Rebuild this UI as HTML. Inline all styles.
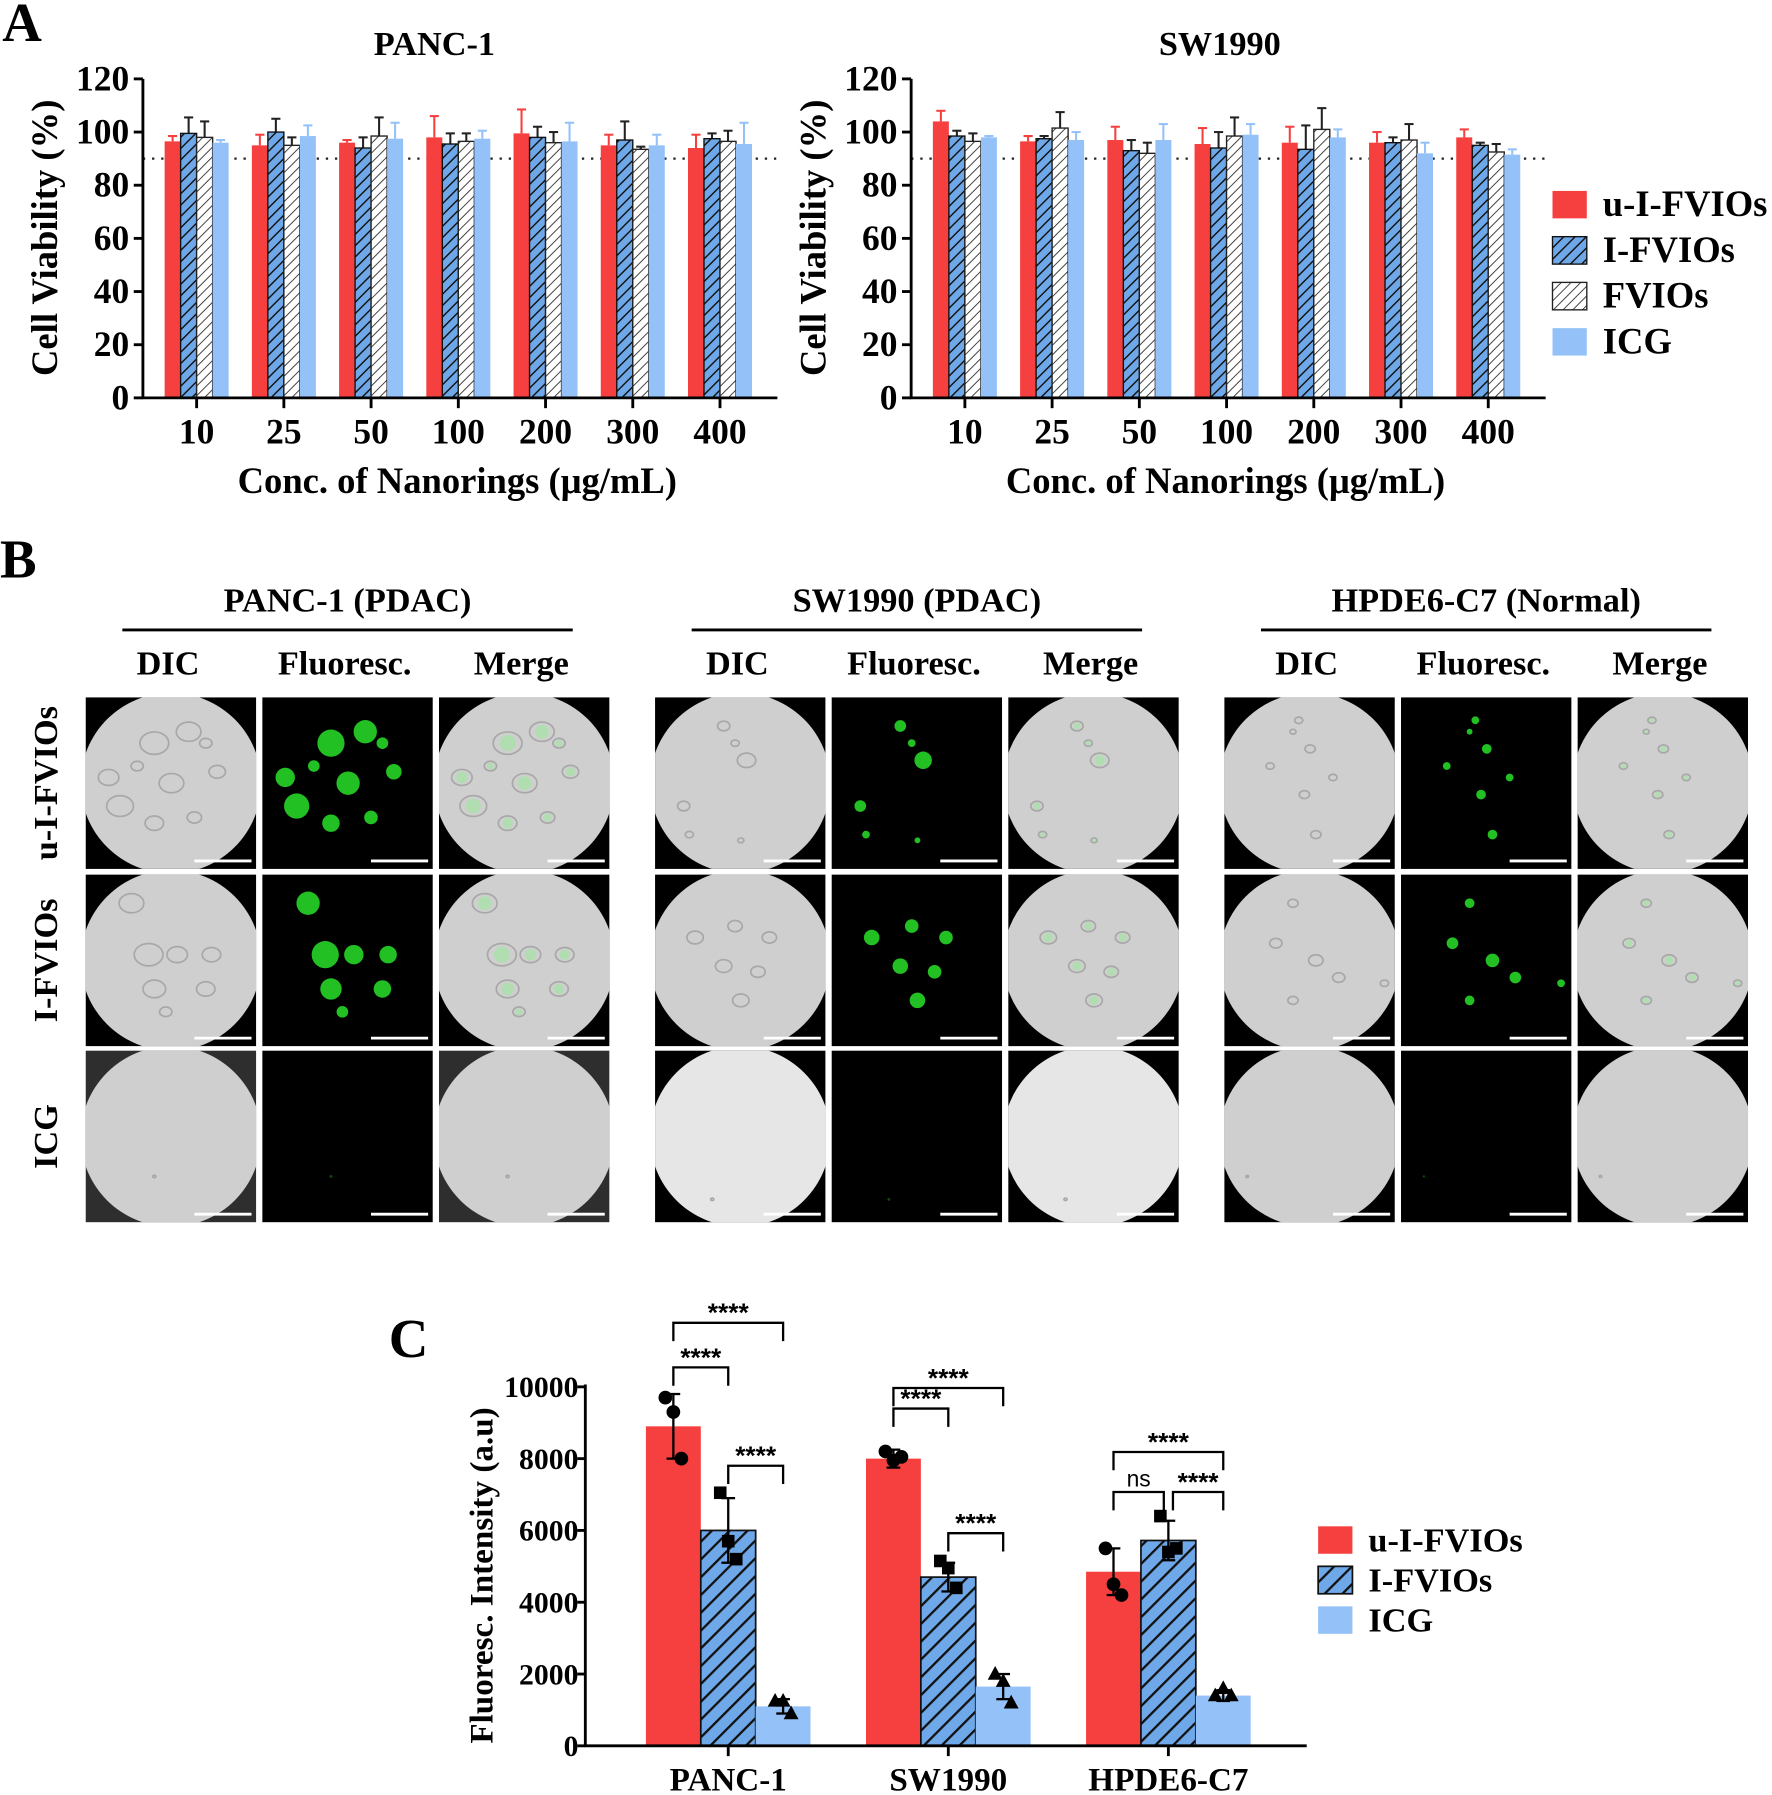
<!DOCTYPE html>
<html><head><meta charset="utf-8"><style>
html,body{margin:0;padding:0;background:#fff;}
svg{display:block;font-family:"Liberation Serif",serif;font-weight:bold;}
</style></head><body>
<svg id="fig" width="1772" height="1795" viewBox="0 0 1550 1570" preserveAspectRatio="none" xmlns="http://www.w3.org/2000/svg">
<defs>
<pattern id="hb" patternUnits="userSpaceOnUse" width="7" height="7" patternTransform="rotate(45)"><rect width="7" height="7" fill="#6fa8e8"/><line x1="0" y1="0" x2="0" y2="7" stroke="#111" stroke-width="2.5"/></pattern>
<pattern id="hw" patternUnits="userSpaceOnUse" width="6" height="6" patternTransform="rotate(45)"><rect width="6" height="6" fill="#fff"/><line x1="0" y1="0" x2="0" y2="6" stroke="#333" stroke-width="1.6"/></pattern>
<pattern id="hc" patternUnits="userSpaceOnUse" width="11" height="11" patternTransform="rotate(45)"><rect width="11" height="11" fill="#6fa8e8"/><line x1="0" y1="0" x2="0" y2="11" stroke="#111" stroke-width="4"/></pattern>
</defs>
<g id="root"></g>
</svg>
<script>
const NS="http://www.w3.org/2000/svg";
const root=document.getElementById('root');
function el(tag,attrs,parent,text){const e=document.createElementNS(NS,tag);for(const k in attrs)e.setAttribute(k,attrs[k]);if(text!==undefined)e.textContent=text;(parent||root).appendChild(e);return e;}

// ===== Panel A data =====
const concLabels=["10","25","50","100","200","300","400"];
const seriesNames=["u-I-FVIOs","I-FVIOs","FVIOs","ICG"];
const panc_u=[96.5,95,96,98,99.5,95,94];
const panc_i=[99.5,100,94,95.5,98,97,97.5];
const panc_f=[98,95,98.5,96.5,96,93.5,96.5];
const panc_c=[96,98.5,97.5,97.5,96.5,95,95.5];
const panc_ue=[2,4,1,8,9,4,5];
const panc_ie=[6,5,4,4,4,7,2];
const panc_fe=[6,3,7,3,4,1,4];
const panc_ce=[1,4,6,3,7,4,8];
const sw_u=[104,96.5,97,95.5,96,96,98];
const sw_i=[98.5,97.5,93,94,93.5,96,95];
const sw_f=[96.5,101.5,92,98.5,101,97,92.5];
const sw_c=[98,97,97,99,98,92,91.5];
const sw_ue=[4,2,5,6,6,4,3];
const sw_ie=[2,1,4,6,9,2,1];
const sw_fe=[3,6,4,7,8,6,3];
const sw_ce=[0.5,3,6,4,3,4,2];
const yTicksA=[0,20,40,60,80,100,120];

const fills=["#f64040","url(#hb)","url(#hw)","#94c2f8"];
const strokes=["none","#111","#222","none"];
const errCol=["#f64040","#222","#222","#94c2f8"];

function chartA(name,title,ox,vals,errs){
  const g=el('g',{});
  
  
  const x0=ox,x1=ox+555,yb=348,yt=69;
  const y=v=>yb-(v/120)*(yb-yt);
  const gw=76.3, cx=i=>x0+47+i*gw;
  const t=el('text',{x:ox+(title==="PANC-1"?255:270),y:48,'font-size':30,'text-anchor':'middle'},g,title);
  
  el('line',{x1:x0,x2:x1,y1:y(90),y2:y(90),stroke:'#222','stroke-width':2,'stroke-dasharray':'2 6'},g);
  for(let i=0;i<concLabels.length;i++){
    for(let s=0;s<4;s++){
      const bx=cx(i)-28+s*14, v=vals[s][i], e=errs[s][i];
      el('line',{x1:bx+7,x2:bx+7,y1:y(v),y2:y(v+e),stroke:errCol[s],'stroke-width':1.8},g);
      el('line',{x1:bx+3,x2:bx+11,y1:y(v+e),y2:y(v+e),stroke:errCol[s],'stroke-width':1.8},g);
      const r=el('rect',{x:bx,y:y(v),width:14,height:yb-y(v),fill:fills[s],stroke:strokes[s],'stroke-width':1.2},g);
      
      
    }
    el('line',{x1:cx(i),x2:cx(i),y1:yb,y2:yb+9,stroke:'#000','stroke-width':2.5},g);
    const tl=el('text',{x:cx(i),y:yb+40,'font-size':31,'text-anchor':'middle'},g,concLabels[i]);
    
  }
  el('line',{x1:x0,x2:x0,y1:yt,y2:yb+1,stroke:'#000','stroke-width':2.5},g);
  el('line',{x1:x0-1,x2:x1,y1:yb,y2:yb,stroke:'#000','stroke-width':2.5},g);
  yTicksA.forEach(v=>{
    el('line',{x1:x0-8,x2:x0,y1:y(v),y2:y(v),stroke:'#000','stroke-width':2.5},g);
    const l=el('text',{x:x0-12,y:y(v)+10,'font-size':31,'text-anchor':'end'},g,v);
    
  });
  const yt2=el('text',{transform:`translate(${x0-75},208) rotate(-90)`,'font-size':32,'text-anchor':'middle'},g,'Cell Viability (%)');
  
  const xt=el('text',{x:x0+275,y:431,'font-size':32,'text-anchor':'middle'},g,'Conc. of Nanorings (μg/mL)');
  
}
chartA('chart-panc1','PANC-1',125,[panc_u,panc_i,panc_f,panc_c],[panc_ue,panc_ie,panc_fe,panc_ce]);
chartA('chart-sw1990','SW1990',797,[sw_u,sw_i,sw_f,sw_c],[sw_ue,sw_ie,sw_fe,sw_ce]);

let la=el('text',{x:2,y:36,'font-size':48},root,'A');
const legA=el('g',{});
seriesNames.forEach((n,s)=>{
  const yy=167+s*40;
  el('rect',{x:1358,y:yy,width:30,height:24,fill:fills[s],stroke:strokes[s],'stroke-width':1.2},legA);
  const t=el('text',{x:1402,y:yy+22,'font-size':32},legA,n);
  
});

// ===== Panel B =====
let lb=el('text',{x:0,y:505,'font-size':48},root,'B');
const groups=[{t:"PANC-1  (PDAC)",x:75},{t:"SW1990 (PDAC)",x:573},{t:"HPDE6-C7 (Normal)",x:1071}];
const cols=["DIC","Fluoresc.","Merge"];
const rows=[{t:"u-I-FVIOs",y:610},{t:"I-FVIOs",y:765},{t:"ICG",y:919}];
const blobs=[
 [[[60,40,14],[90,30,12],[20,70,10],[30,95,13],[75,75,12],[60,110,9],[95,105,7],[115,65,8],[45,60,6],[105,40,6]],[[40,25,12],[55,70,14],[80,70,10],[60,100,11],[110,70,9],[105,100,9],[70,120,6]],[[60,110,1.5]]],
 [[[60,25,6],[80,55,9],[25,95,6],[30,120,4],[75,125,3],[70,40,4]],[[35,55,8],[70,45,7],[100,55,7],[60,80,8],[90,85,7],[75,110,8]],[[50,130,1.5]]],
 [[[65,20,4],[75,45,5],[40,60,4],[70,85,5],[80,120,5],[95,70,4],[60,30,3]],[[60,25,5],[45,60,6],[80,75,7],[100,90,6],[60,110,5],[140,95,4]],[[20,110,1.2]]]
];
const scene=el('g',{});
groups.forEach((gr,gi)=>{
  const cxh=gr.x+229;
  const h=el('text',{x:cxh,y:535,'font-size':30,'text-anchor':'middle'},scene,gr.t);
  
  el('line',{x1:cxh-197,x2:cxh+197,y1:551,y2:551,stroke:'#000','stroke-width':2.5},scene);
  cols.forEach((c,ci)=>{
    const tx=gr.x+ci*154.5;
    const ct=el('text',{x:tx+72,y:590,'font-size':30,'text-anchor':'middle'},scene,c);
    
    rows.forEach((r,ri)=>{
      const tg=el('g',{},scene);
      
      
      const bg=(gi===0&&ri===2&&ci!==1)?'#2e2e2e':'#000';
      el('rect',{x:tx,y:r.y,width:149,height:150,fill:bg},tg);
      const cid='c'+gi+ci+ri;
      const cp=el('clipPath',{id:cid},tg);el('rect',{x:tx,y:r.y,width:149,height:150},cp);
      const cg=el('g',{'clip-path':`url(#${cid})`},tg);
      if(ci!==1){
        const fillc=(gi===1&&ri===2)?'#e6e6e6':'#cfcfcf';
        el('circle',{cx:tx+74.5,cy:r.y+75,r:79,fill:fillc},cg);
        blobs[gi][ri].forEach(b=>el('ellipse',{cx:tx+b[0],cy:r.y+b[1],rx:b[2]*0.9,ry:b[2]*0.7,fill:'none',stroke:'#a8a8a8','stroke-width':1.5},cg));
        if(ci===2&&ri<2)blobs[gi][ri].forEach(b=>el('circle',{cx:tx+b[0],cy:r.y+b[1],r:b[2]*0.5,fill:'#9be89b',opacity:0.6},cg));
      } else {
        blobs[gi][ri].forEach(b=>el('circle',{cx:tx+b[0],cy:r.y+b[1],r:b[2]*0.85,fill:ri===2?'#0a4a0a':'#22c022'},cg));
      }
      el('line',{x1:tx+95,x2:tx+145,y1:r.y+143,y2:r.y+143,stroke:'#fff','stroke-width':2.5},tg);
    });
  });
});
rows.forEach(r=>{
  const t=el('text',{transform:`translate(50,${r.y+75}) rotate(-90)`,'font-size':30,'text-anchor':'middle'},scene,r.t);
  
});

// ===== Panel C data =====
const cellLines=["PANC-1","SW1990","HPDE6-C7"];
const cSeries=["u-I-FVIOs","I-FVIOs","ICG"];
const c_u=[8900,8000,4850];
const c_i=[6000,4700,5720];
const c_c=[1100,1650,1400];
const c_ue=[900,250,650];
const c_ie=[900,400,550];
const c_ce=[200,350,150];
const pts_u=[[9700,9300,8000],[8200,7950,8050],[5500,4500,4200]];
const pts_i=[[7050,5700,5200],[5150,4950,4400],[6400,5400,5500]];
const pts_c=[[1250,1250,900],[2000,1800,1200],[1400,1600,1400]];
const yTicksC=[0,2000,4000,6000,8000,10000];
const sigLabels=[["****","****","****"],["****","****","****"],["****","ns","****"]];

const gC=el('g',{});
const cx0=512,cx1=1143,cyb=1527,cyt=1213;
const yc=v=>cyb-(v/10000)*(cyb-cyt);
const gcx=i=>637+i*192.5;
const cf=["#f64040","url(#hc)","#94c2f8"];
const cs=["none","#111","none"];
const cvals=[c_u,c_i,c_c],cerr=[c_ue,c_ie,c_ce],cpts=[pts_u,pts_i,pts_c];
cellLines.forEach((cl,i)=>{
  for(let s=0;s<3;s++){
    const bx=gcx(i)-72+s*48, v=cvals[s][i], e=cerr[s][i];
    const r=el('rect',{x:bx,y:yc(v),width:48,height:cyb-yc(v),fill:cf[s],stroke:cs[s],'stroke-width':1.5},gC);
    
    
    const mx=bx+24;
    el('line',{x1:mx,x2:mx,y1:yc(v-e),y2:yc(v+e),stroke:'#000','stroke-width':2},gC);
    el('line',{x1:mx-6,x2:mx+6,y1:yc(v+e),y2:yc(v+e),stroke:'#000','stroke-width':2},gC);
    el('line',{x1:mx-6,x2:mx+6,y1:yc(v-e),y2:yc(v-e),stroke:'#000','stroke-width':2},gC);
    cpts[s][i].forEach((p,k)=>{
      const px=mx+(k-1)*7, py=yc(p);
      let m;
      if(s===0)m=el('circle',{cx:px,cy:py,r:6,fill:'#000'},gC);
      else if(s===1)m=el('rect',{x:px-5.5,y:py-5.5,width:11,height:11,fill:'#000'},gC);
      else m=el('polygon',{points:`${px},${py-7} ${px-6.5},${py+5} ${px+6.5},${py+5}`,fill:'#000'},gC);
      
    });
  }
  el('line',{x1:gcx(i),x2:gcx(i),y1:cyb,y2:cyb+9,stroke:'#000','stroke-width':2.5},gC);
  const t=el('text',{x:gcx(i),y:1566,'font-size':29,'text-anchor':'middle'},gC,cl);
  
  const xa=gcx(i)-48,xb=gcx(i),xc=gcx(i)+48;
  let bkts;
  if(i===0)bkts=[[xa,xc,1157],[xa,xb,1196],[xb,xc,1282]];
  if(i===1)bkts=[[xa,xc,1214],[xa,xb,1232],[xb,xc,1341]];
  if(i===2)bkts=[[xa,xc,1270],[xa,xb-4,1305],[xb+4,xc,1305]];
  bkts.forEach((b,k)=>{
    el('polyline',{points:`${b[0]},${b[2]+16} ${b[0]},${b[2]} ${b[1]},${b[2]} ${b[1]},${b[2]+16}`,fill:'none',stroke:'#000','stroke-width':2},gC);
    const lab=sigLabels[i][k];
    const st=el('text',{x:(b[0]+b[1])/2,y:b[2]-(lab==='ns'?5:1),'font-size':lab==='ns'?20:23,'font-family':'Liberation Sans, sans-serif','font-weight':lab==='ns'?'normal':'bold','text-anchor':'middle'},gC,lab);
    
  });
});
el('line',{x1:cx0,x2:cx0,y1:cyt-2,y2:cyb+1,stroke:'#000','stroke-width':2.5},gC);
el('line',{x1:cx0-1,x2:cx1,y1:cyb,y2:cyb,stroke:'#000','stroke-width':2.5},gC);
yTicksC.forEach(v=>{
  el('line',{x1:cx0-7,x2:cx0,y1:yc(v),y2:yc(v),stroke:'#000','stroke-width':2.5},gC);
  const l=el('text',{x:cx0-6,y:yc(v)+9,'font-size':26,'text-anchor':'end'},gC,v);
  
});
const ctt=el('text',{transform:'translate(431,1378) rotate(-90)','font-size':29,'text-anchor':'middle'},gC,'Fluoresc. Intensity  (a.u)');

let lc=el('text',{x:340,y:1187,'font-size':48},root,'C');
const legC=el('g',{});
cSeries.forEach((n,s)=>{
  const yy=1335+s*35;
  el('rect',{x:1153,y:yy,width:30,height:24,fill:cf[s],stroke:cs[s],'stroke-width':1.5},legC);
  const t=el('text',{x:1197,y:yy+22,'font-size':30},legC,n);
  
});
</script>
</body></html>
